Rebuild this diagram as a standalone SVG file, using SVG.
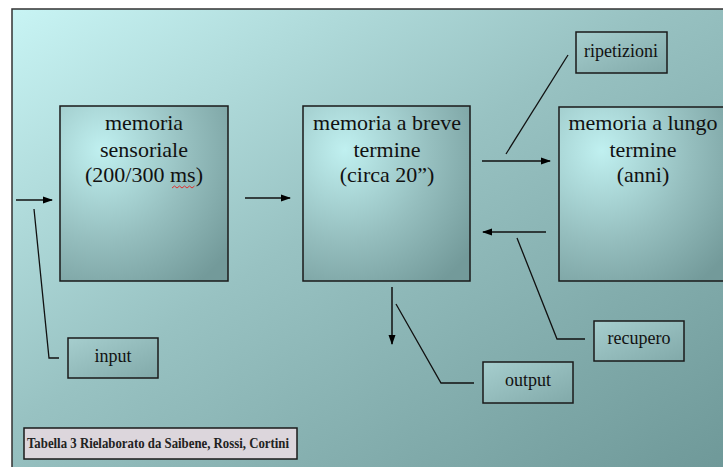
<svg xmlns="http://www.w3.org/2000/svg" width="723" height="467" viewBox="0 0 723 467">
<defs>
<linearGradient id="bg" x1="0" y1="0" x2="1" y2="1">
<stop offset="0" stop-color="#c8f4f4"/>
<stop offset="0.45" stop-color="#98c2c2"/>
<stop offset="1" stop-color="#6e9898"/>
</linearGradient>
<radialGradient id="box" cx="0.25" cy="0.25" r="0.95">
<stop offset="0" stop-color="#c0f0f0"/>
<stop offset="0.55" stop-color="#95bebe"/>
<stop offset="1" stop-color="#739a9a"/>
</radialGradient>
<linearGradient id="lbl" x1="0" y1="0" x2="1" y2="1">
<stop offset="0" stop-color="#a6cece"/>
<stop offset="1" stop-color="#81a9a9"/>
</linearGradient>
<marker id="ah" viewBox="0 0 10 10" refX="9" refY="5" markerWidth="10" markerHeight="10" markerUnits="userSpaceOnUse" orient="auto">
<path d="M0,1.5 L10,5 L0,8.5 Z" fill="#000"/>
</marker>
</defs>
<style>
.t{font-size:22px;fill:#111;text-anchor:middle}
.s{font-size:18px;fill:#111;text-anchor:middle}
.b{fill:url(#box);stroke:#1a1a1a;stroke-width:1.5}
.l{fill:url(#lbl);stroke:#1a1a1a;stroke-width:1.5}
.c{fill:none;stroke:#111;stroke-width:1.3}
.a{fill:none;stroke:#111;stroke-width:1.5;marker-end:url(#ah)}
</style>
<rect x="0" y="0" width="723" height="467" fill="#ffffff"/>
<rect x="12" y="9" width="716" height="465" fill="url(#bg)" stroke="#333" stroke-width="1.5"/>

<g font-family="Liberation Serif, Times New Roman, serif">
<g id="sensoriale">
<rect class="b" x="60" y="106" width="168" height="175"/>
<text class="t" x="144" y="130">memoria</text>
<text class="t" x="144" y="157">sensoriale</text>
<text class="t" x="144" y="182">(200/300 ms)</text>
<path d="M172,188 l2.5,-2 l2.5,2 l2.5,-2 l2.5,2 l2.5,-2 l2.5,2 l2.5,-2 l2.5,2 l2.5,-2" fill="none" stroke="#e03030" stroke-width="1"/>
</g>
<g id="breve">
<rect class="b" x="303" y="106" width="167" height="175"/>
<text class="t" x="387" y="130">memoria a breve</text>
<text class="t" x="387" y="157">termine</text>
<text class="t" x="387" y="182">(circa 20”)</text>
</g>
<g id="lungo">
<rect class="b" x="559" y="107" width="170" height="174"/>
<text class="t" x="643" y="130">memoria a lungo</text>
<text class="t" x="643" y="157">termine</text>
<text class="t" x="643" y="182">(anni)</text>
</g>
<g id="ripetizioni">
<rect class="l" x="576" y="32" width="91" height="41"/>
<text class="s" x="621" y="57">ripetizioni</text>
</g>
<g id="input">
<rect class="l" x="68" y="338" width="90" height="40"/>
<text class="s" x="113" y="362">input</text>
</g>
<g id="recupero">
<rect class="l" x="594" y="321" width="90" height="40"/>
<text class="s" x="639" y="344">recupero</text>
</g>
<g id="output">
<rect class="l" x="483" y="362" width="90" height="41"/>
<text class="s" x="528" y="386">output</text>
</g>
<g id="caption">
<rect x="24" y="428" width="273" height="31" fill="#dcd6dc" stroke="#1a1a1a" stroke-width="1.5"/>
<text x="158" y="448" font-size="14" font-weight="bold" fill="#222" text-anchor="middle" textLength="262" lengthAdjust="spacingAndGlyphs">Tabella 3 Rielaborato da Saibene, Rossi, Cortini</text>
</g>
</g>

<g id="connectors">
<line class="a" x1="16" y1="200" x2="52" y2="200"/>
<line class="a" x1="245" y1="198" x2="290" y2="198"/>
<line class="a" x1="482" y1="161" x2="550" y2="161"/>
<line class="a" x1="546" y1="232" x2="483" y2="232"/>
<line class="a" x1="392" y1="287" x2="392" y2="344"/>
<polyline class="c" points="34,209 49,358 59,358"/>
<line class="c" x1="506" y1="154" x2="568" y2="55"/>
<polyline class="c" points="517,238 557,339 585,339"/>
<polyline class="c" points="396,304 441,383 474,383"/>
</g>
</svg>
